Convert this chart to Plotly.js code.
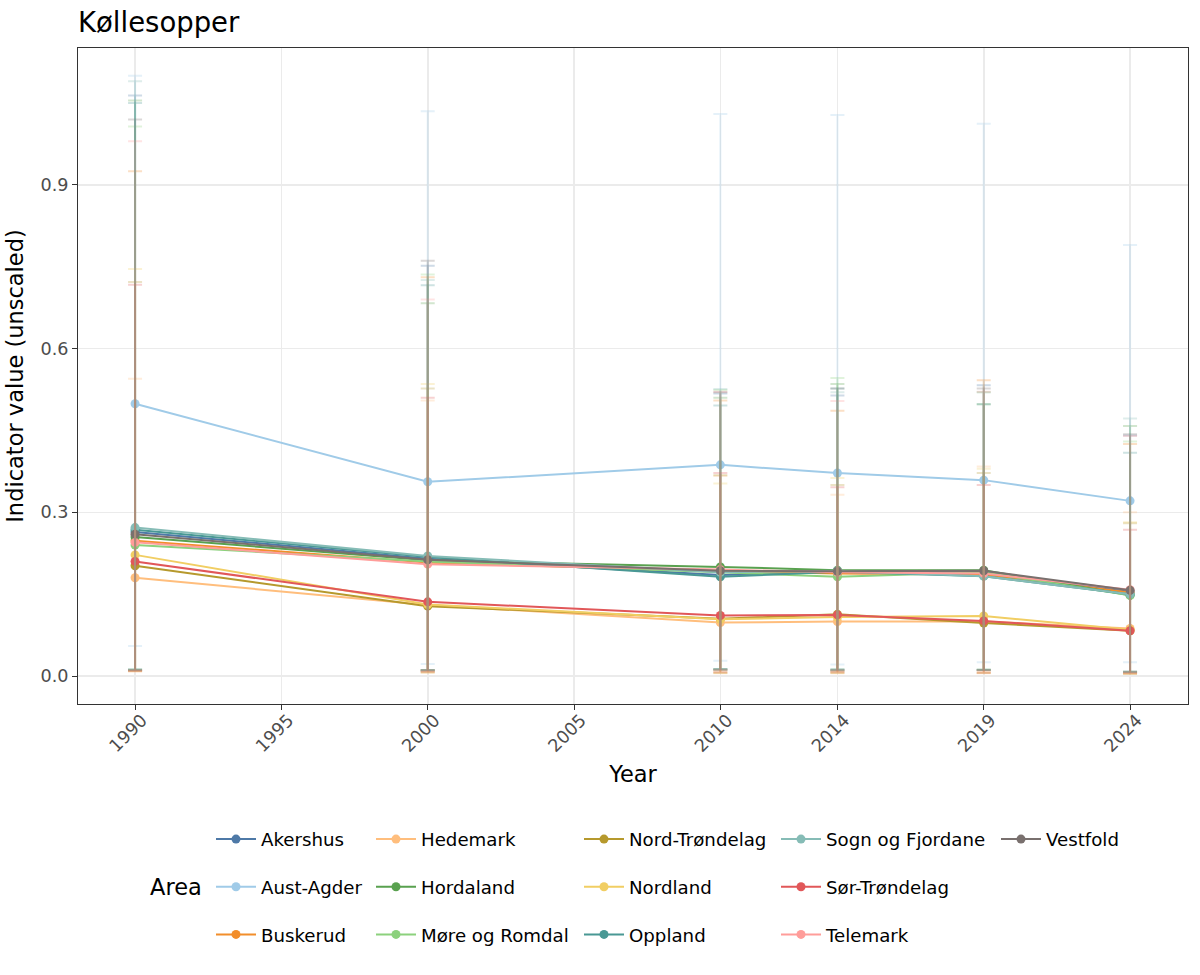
<!DOCTYPE html>
<html>
<head>
<meta charset="utf-8">
<script src="https://cdn.plot.ly/plotly-3.0.1.min.js"></script>
<style>html,body{margin:0;padding:0;background:#fff;}#chart{width:1200px;height:975px;}</style>
</head>
<body>
<div id="chart"></div>
<script>
const years = [1990, 2000, 2010, 2014, 2019, 2024];
const areas = ["Akershus", "Aust-Agder", "Buskerud", "Hedemark", "Hordaland", "Møre og Romdal",
  "Nord-Trøndelag", "Nordland", "Oppland", "Sogn og Fjordane", "Sør-Trøndelag", "Telemark", "Vestfold"];
const colors = ["#4E79A7", "#A0CBE8", "#F28E2B", "#FFBE7D", "#59A14F", "#8CD17D",
  "#B6992D", "#F1CE63", "#499894", "#86BCB6", "#E15759", "#FF9D9A", "#79706E"];

const valAkershus   = [0.264, 0.215, 0.185, 0.190, 0.190, 0.155];
const valAustAgder  = [0.499, 0.356, 0.387, 0.372, 0.359, 0.321];
const valBuskerud   = [0.248, 0.208, 0.192, 0.188, 0.186, 0.153];
const valHedemark   = [0.180, 0.130, 0.098, 0.100, 0.100, 0.087];
const valHordaland  = [0.255, 0.212, 0.200, 0.194, 0.194, 0.148];
const valMore       = [0.240, 0.210, 0.190, 0.182, 0.190, 0.148];
const valNordTr     = [0.202, 0.128, 0.105, 0.113, 0.097, 0.083];
const valNordland   = [0.222, 0.131, 0.104, 0.108, 0.110, 0.085];
const valOppland    = [0.268, 0.218, 0.182, 0.191, 0.183, 0.150];
const valSogn       = [0.272, 0.220, 0.190, 0.193, 0.183, 0.150];
const valSorTr      = [0.210, 0.136, 0.111, 0.112, 0.101, 0.083];
const valTelemark   = [0.245, 0.205, 0.195, 0.190, 0.188, 0.158];
const valVestfold   = [0.260, 0.213, 0.193, 0.192, 0.193, 0.157];

const upAkershus   = [1.064, 0.752, 0.518, 0.514, 0.533, 0.441];
const upAustAgder  = [1.100, 1.035, 1.030, 1.028, 1.012, 0.790];
const upBuskerud   = [0.925, 0.731, 0.505, 0.486, 0.542, 0.425];
const upHedemark   = [0.545, 0.505, 0.367, 0.332, 0.384, 0.300];
const upHordaland  = [1.055, 0.683, 0.510, 0.535, 0.498, 0.458];
const upMore       = [1.007, 0.736, 0.524, 0.546, 0.520, 0.430];
const upNordTr     = [0.722, 0.527, 0.368, 0.350, 0.372, 0.280];
const upNordland   = [0.746, 0.535, 0.353, 0.363, 0.380, 0.282];
const upOppland    = [1.050, 0.716, 0.496, 0.527, 0.498, 0.409];
const upSogn       = [1.090, 0.726, 0.526, 0.520, 0.520, 0.472];
const upSorTr      = [0.717, 0.510, 0.372, 0.346, 0.350, 0.268];
const upTelemark   = [0.980, 0.690, 0.521, 0.504, 0.521, 0.440];
const upVestfold   = [1.020, 0.761, 0.520, 0.527, 0.527, 0.443];

const loAkershus   = [0.010, 0.009, 0.012, 0.010, 0.011, 0.007];
const loAustAgder  = [0.055, 0.022, 0.028, 0.021, 0.025, 0.025];
const loBuskerud   = [0.011, 0.010, 0.010, 0.009, 0.010, 0.006];
const loHedemark   = [0.008, 0.006, 0.005, 0.005, 0.005, 0.004];
const loHordaland  = [0.012, 0.011, 0.013, 0.012, 0.012, 0.008];
const loMore       = [0.010, 0.010, 0.011, 0.010, 0.011, 0.007];
const loNordTr     = [0.009, 0.007, 0.006, 0.006, 0.006, 0.004];
const loNordland   = [0.009, 0.007, 0.006, 0.006, 0.006, 0.004];
const loOppland    = [0.012, 0.011, 0.012, 0.012, 0.011, 0.008];
const loSogn       = [0.012, 0.011, 0.013, 0.012, 0.012, 0.008];
const loSorTr      = [0.009, 0.008, 0.007, 0.007, 0.006, 0.005];
const loTelemark   = [0.010, 0.010, 0.011, 0.010, 0.010, 0.007];
const loVestfold   = [0.011, 0.011, 0.012, 0.011, 0.011, 0.008];

const values = [valAkershus, valAustAgder, valBuskerud, valHedemark, valHordaland, valMore,
  valNordTr, valNordland, valOppland, valSogn, valSorTr, valTelemark, valVestfold];
const uppers = [upAkershus, upAustAgder, upBuskerud, upHedemark, upHordaland, upMore,
  upNordTr, upNordland, upOppland, upSogn, upSorTr, upTelemark, upVestfold];
const lowers = [loAkershus, loAustAgder, loBuskerud, loHedemark, loHordaland, loMore,
  loNordTr, loNordland, loOppland, loSogn, loSorTr, loTelemark, loVestfold];

function rgba(hex, a) {
  const r = parseInt(hex.slice(1,3),16), g = parseInt(hex.slice(3,5),16), b = parseInt(hex.slice(5,7),16);
  return `rgba(${r},${g},${b},${a})`;
}

const legendNames = ["legend", "legend2", "legend3", "legend4", "legend5"];
const traces = [];
areas.forEach((name, i) => {
  traces.push({
    type: "scatter", mode: "lines+markers", name: name,
    x: years, y: values[i],
    line: {color: colors[i], width: 2},
    marker: {color: colors[i], size: 9},
    legend: legendNames[Math.floor(i / 3)],
    legendgroup: name,
    hoverinfo: "skip"
  });
});
areas.forEach((name, i) => {
  traces.push({
    type: "scatter", mode: "markers", name: name + " CI", showlegend: false,
    x: years, y: values[i],
    marker: {color: "rgba(0,0,0,0)", size: 1},
    error_y: {
      type: "data", symmetric: false,
      array: uppers[i].map((u, k) => u - values[i][k]),
      arrayminus: lowers[i].map((l, k) => values[i][k] - l),
      color: rgba(colors[i], 0.27), thickness: 2, width: 7
    },
    hoverinfo: "skip"
  });
});

const font = "DejaVu Sans, Liberation Sans, sans-serif";
const L = 78, W = 1110;
const colPx = [211, 371, 579, 776, 996];
const legendCfg = (k) => ({
  orientation: "v", xref: "paper", yref: "paper",
  x: (colPx[k] - L) / W, y: -0.178, xanchor: "left", yanchor: "top",
  traceorder: "grouped", tracegroupgap: 21, itemwidth: 40,
  font: {family: font, size: 18.2, color: "#000"},
  bgcolor: "rgba(0,0,0,0)", borderwidth: 0
});

const layout = {
  width: 1200, height: 975,
  margin: {l: 78, r: 12, t: 48, b: 271},
  paper_bgcolor: "#fff", plot_bgcolor: "#fff",
  font: {family: font, color: "#000"},
  title: {text: "Køllesopper", x: 78/1200, xanchor: "left", xref: "container",
          y: 1 - 22/975, yanchor: "middle", yref: "container",
          font: {family: font, size: 27.5, color: "#000"}},
  xaxis: {
    range: [1988.05, 2025.98], tickvals: [1990, 1995, 2000, 2005, 2010, 2014, 2019, 2024],
    ticktext: ["1990", "1995", "2000", "2005", "2010", "2014", "2019", "2024"],
    tickangle: -45, tickfont: {family: font, size: 17.6, color: "#4D4D4D"},
    ticklabelstandoff: -7, ticklabelshift: 7,
    ticks: "outside", ticklen: 5, tickcolor: "#333", tickwidth: 1,
    showgrid: true, gridcolor: "#EBEBEB", gridwidth: 1.6, zeroline: false,
    showline: true, linecolor: "#333", linewidth: 1, mirror: true,
    title: {text: "Year", font: {family: font, size: 22.5, color: "#000"}, standoff: 11},
    automargin: false
  },
  yaxis: {
    range: [-0.0513, 1.151], tickvals: [0, 0.3, 0.6, 0.9], ticktext: ["0.0", "0.3", "0.6", "0.9"],
    tickfont: {family: font, size: 17.6, color: "#4D4D4D"},
    ticks: "outside", ticklen: 5, tickcolor: "#333", tickwidth: 1,
    showgrid: true, gridcolor: "#EBEBEB", gridwidth: 1.6, zeroline: false,
    showline: true, linecolor: "#333", linewidth: 1, mirror: true,
    title: {text: "Indicator value (unscaled)", font: {family: font, size: 22.5, color: "#000"}, standoff: 10},
    automargin: false
  },
  showlegend: true,
  legend: legendCfg(0), legend2: legendCfg(1), legend3: legendCfg(2), legend4: legendCfg(3), legend5: legendCfg(4),
  annotations: [{
    text: "Area", xref: "paper", yref: "paper", x: (148 - L) / W, y: -(887 - 704) / 656,
    xanchor: "left", yanchor: "middle", showarrow: false,
    font: {family: font, size: 22.5, color: "#000"}
  }]
};

Plotly.newPlot("chart", traces, layout, {displayModeBar: false, staticPlot: true});
</script>
</body>
</html>
